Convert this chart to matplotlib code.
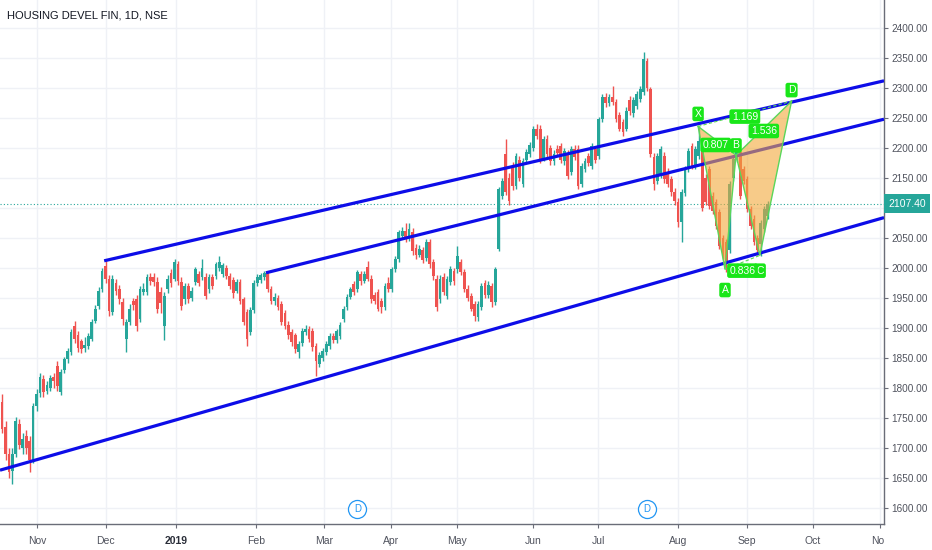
import numpy as np
import matplotlib.pyplot as plt
from matplotlib.patches import Polygon
from matplotlib.transforms import blended_transform_factory, Bbox, TransformedBbox
from matplotlib.ticker import FuncFormatter

plt.rcParams['font.family'] = ['Liberation Sans Narrow', 'DejaVu Sans Condensed', 'Liberation Sans', 'DejaVu Sans']

title = 'HOUSING DEVEL FIN, 1D, NSE'

# daily candles, 17 Oct 2018 .. 10 Sep 2019
opens = [1777, 1735, 1690, 1662, 1690, 1740, 1700, 1720, 1712, 1680,
         1770, 1792, 1815, 1795, 1800, 1818, 1837, 1793, 1830, 1848,
         1860, 1903, 1888, 1878, 1866, 1870, 1882, 1912, 1937, 1965,
         2003, 1982, 1927, 1975, 1965, 1943, 1882, 1910, 1945, 1948,
         1915, 1960, 1960, 1985, 1985, 1977, 1960, 1903, 1965, 1992,
         1982, 2007, 1977, 1948, 1970, 1950, 1977, 1990, 1985, 1985,
         1965, 1985, 1987, 2000, 1990, 2000, 1987, 1980, 1962, 1977,
         1948, 1927, 1893, 1930, 1975, 1980, 1985, 1990, 1965, 1945,
         1950, 1940, 1925, 1905, 1893, 1888, 1860, 1875, 1893, 1898,
         1895, 1870, 1840, 1850, 1860, 1870, 1887, 1880, 1887, 1915,
         1935, 1952, 1973, 1965, 1990, 1978, 2002, 1982, 1955, 1960,
         1945, 1935, 1975, 1965, 1998, 2015, 2053, 2062, 2050, 2060,
         2033, 2022, 2030, 2017, 2043, 2010, 1982, 1948, 1985, 1953,
         1977, 1995, 1998, 2010, 1993, 1965, 1953, 1940, 1918, 1935,
         1975, 1955, 1970, 1943, 2032, 2120, 2190, 2150, 2170, 2137,
         2180, 2140, 2180, 2190, 2200, 2232, 2232, 2182, 2215, 2200,
         2178, 2198, 2203, 2178, 2190, 2160, 2198, 2198, 2140, 2165,
         2187, 2170, 2198, 2187, 2248, 2285, 2275, 2285, 2277, 2255,
         2243, 2232, 2280, 2258, 2270, 2282, 2293, 2345, 2298, 2185,
         2145, 2155, 2187, 2160, 2148, 2127, 2110, 2077, 2125, 2165,
         2203, 2170, 2187, 2212, 2150, 2165, 2120, 2110, 2093, 2050,
         2043, 2030, 2150, 2182, 2193, 2165, 2148, 2098, 2082, 2050,
         2040, 2065, 2087]
highs = [1790, 1745, 1700, 1700, 1752, 1748, 1725, 1730, 1720, 1775,
         1798, 1825, 1822, 1812, 1822, 1825, 1845, 1832, 1852, 1866,
         1898, 1912, 1895, 1882, 1885, 1892, 1915, 1938, 1968, 2000,
         2012, 1988, 1988, 1982, 1972, 1950, 1915, 1940, 1950, 1955,
         1970, 1975, 1990, 1992, 1992, 1985, 1968, 1960, 1988, 1998,
         2015, 2012, 1985, 1975, 1975, 1968, 2002, 1995, 2015, 1992,
         1990, 1990, 2010, 2020, 2008, 2005, 1992, 1985, 1982, 1982,
         1952, 1932, 1935, 1980, 1990, 1992, 1995, 1995, 1970, 1958,
         1955, 1945, 1930, 1912, 1898, 1892, 1878, 1900, 1905, 1903,
         1900, 1875, 1860, 1866, 1878, 1892, 1892, 1898, 1910, 1936,
         1956, 1968, 1978, 1996, 1995, 1995, 2012, 1988, 1960, 1965,
         1950, 1975, 1985, 2002, 2020, 2063, 2068, 2075, 2075, 2066,
         2040, 2038, 2035, 2048, 2048, 2015, 1988, 1988, 1992, 1986,
         2003, 2000, 2037, 2015, 1998, 1972, 1958, 1945, 1945, 1975,
         1980, 1978, 1975, 2002, 2135, 2150, 2215, 2158, 2176, 2192,
         2186, 2184, 2198, 2210, 2237, 2240, 2238, 2220, 2222, 2205,
         2196, 2205, 2208, 2200, 2196, 2203, 2205, 2205, 2175, 2184,
         2192, 2208, 2204, 2252, 2290, 2292, 2290, 2303, 2282, 2260,
         2248, 2268, 2286, 2285, 2295, 2303, 2360, 2350, 2302, 2192,
         2192, 2203, 2193, 2166, 2153, 2133, 2116, 2132, 2170, 2200,
         2208, 2203, 2237, 2216, 2156, 2170, 2126, 2115, 2098, 2055,
         2048, 2145, 2187, 2198, 2198, 2170, 2153, 2104, 2088, 2055,
         2080, 2103, 2112]
lows = [1725, 1680, 1650, 1640, 1685, 1698, 1690, 1690, 1660, 1675,
        1762, 1785, 1785, 1790, 1795, 1800, 1795, 1788, 1825, 1842,
        1855, 1875, 1860, 1858, 1860, 1865, 1878, 1908, 1932, 1960,
        1975, 1920, 1922, 1955, 1940, 1905, 1860, 1905, 1930, 1895,
        1910, 1955, 1955, 1972, 1970, 1925, 1925, 1880, 1958, 1968,
        1978, 1972, 1930, 1940, 1942, 1945, 1972, 1970, 1980, 1948,
        1958, 1965, 1982, 1995, 1985, 1982, 1965, 1950, 1958, 1940,
        1905, 1870, 1888, 1925, 1970, 1975, 1980, 1960, 1940, 1938,
        1930, 1905, 1898, 1882, 1870, 1858, 1850, 1870, 1888, 1877,
        1862, 1820, 1835, 1845, 1855, 1865, 1875, 1875, 1882, 1910,
        1930, 1948, 1955, 1960, 1972, 1975, 1978, 1942, 1940, 1928,
        1925, 1930, 1960, 1960, 1994, 2010, 2048, 2043, 2045, 2022,
        2015, 2018, 2008, 2012, 2000, 1980, 1928, 1942, 1955, 1948,
        1972, 1972, 1992, 1988, 1960, 1945, 1928, 1912, 1912, 1930,
        1950, 1950, 1935, 1938, 2028, 2115, 2122, 2105, 2130, 2132,
        2145, 2135, 2175, 2185, 2195, 2215, 2175, 2178, 2185, 2172,
        2172, 2188, 2175, 2172, 2148, 2155, 2180, 2132, 2135, 2160,
        2170, 2165, 2175, 2182, 2244, 2268, 2270, 2272, 2243, 2228,
        2220, 2228, 2255, 2252, 2265, 2277, 2288, 2295, 2185, 2130,
        2140, 2150, 2142, 2135, 2120, 2105, 2068, 2043, 2120, 2160,
        2165, 2165, 2182, 2095, 2105, 2098, 2090, 2065, 2032, 2015,
        1993, 2025, 2145, 2176, 2115, 2140, 2093, 2065, 2038, 2022,
        2020, 2060, 2082]
closes = [1732, 1690, 1660, 1690, 1745, 1705, 1715, 1700, 1680, 1770,
          1790, 1818, 1793, 1805, 1817, 1812, 1803, 1827, 1848, 1862,
          1893, 1882, 1867, 1865, 1872, 1887, 1910, 1932, 1962, 1995,
          1982, 1928, 1982, 1962, 1948, 1915, 1910, 1932, 1938, 1903,
          1965, 1965, 1985, 1978, 1977, 1932, 1942, 1953, 1982, 1975,
          2010, 1978, 1937, 1970, 1948, 1962, 1998, 1975, 2000, 1953,
          1985, 1970, 2007, 2010, 2005, 1987, 1970, 1958, 1977, 1945,
          1910, 1882, 1930, 1975, 1985, 1988, 1992, 1965, 1945, 1952,
          1935, 1910, 1903, 1888, 1877, 1865, 1873, 1895, 1898, 1882,
          1868, 1845, 1855, 1862, 1873, 1887, 1880, 1895, 1905, 1932,
          1952, 1965, 1960, 1993, 1978, 1990, 1982, 1948, 1945, 1932,
          1935, 1970, 1965, 1998, 2015, 2060, 2062, 2048, 2065, 2028,
          2022, 2032, 2013, 2043, 2007, 1987, 1935, 1982, 1960, 1982,
          1998, 1978, 2020, 1993, 1965, 1950, 1932, 1920, 1940, 1970,
          1955, 1972, 1943, 1998, 2132, 2145, 2127, 2112, 2137, 2187,
          2150, 2178, 2193, 2205, 2232, 2220, 2182, 2215, 2190, 2178,
          2190, 2192, 2180, 2195, 2153, 2198, 2185, 2137, 2170, 2178,
          2175, 2203, 2180, 2248, 2285, 2275, 2285, 2277, 2248, 2232,
          2227, 2262, 2262, 2280, 2290, 2298, 2348, 2300, 2190, 2140,
          2187, 2198, 2148, 2140, 2127, 2112, 2077, 2127, 2165, 2195,
          2170, 2198, 2212, 2100, 2110, 2103, 2095, 2070, 2037, 2020,
          2010, 2140, 2182, 2195, 2120, 2145, 2098, 2070, 2043, 2030,
          2075, 2098, 2107.40]

# month labels sit at the first bar of each month (bar index)
month_pos = [10.1, 30.1, 50.4, 73.6, 93.3, 112.8, 131.9, 153.9, 172.8, 196.0, 216.0, 235.0, 254.5]
month_labels = ['Nov', 'Dec', '2019', 'Feb', 'Mar', 'Apr', 'May', 'Jun', 'Jul', 'Aug', 'Sep', 'Oct', 'Nov']

# drawn trend lines: (bar, price) anchors, extended to the right
trend_lines = [[(29.6, 2012), (255.7, 2312)],
               [(76.5, 1992), (255.7, 2248)],
               [(-0.6, 1663), (255.7, 2084)]]

# XABCD pattern
pat_names = ['X', 'A', 'B', 'C', 'D']
pat_idx = [201.8, 209.6, 212.8, 219.7, 228.9]
pat_price = [2236, 1998, 2188, 2021, 2278]
ratio_pairs = [(0, 2), (1, 3), (2, 4), (0, 4)]
ratio_labels = ['0.807', '0.836', '1.536', '1.169']

div_idx = [103, 187]
last_price = 2107.40

UP = '#26a69a'
DOWN = '#ef5350'
TXT = '#50535e'
PAT = '#19e619'

fig = plt.figure(figsize=(9.32, 5.5), dpi=100)
ax = fig.add_axes([0, 26 / 550, 884 / 932, 524 / 550])
ax.set_xlim(-0.6, 255.7)
ax.set_ylim(1573.3, 2446.7)
ax.set_axisbelow(True)

# candles
o = np.array(opens, float)
h = np.array(highs, float)
l = np.array(lows, float)
c = np.array(closes, float)
x = np.arange(len(c))
col = np.where(c >= o, UP, DOWN)
ax.vlines(x, l, h, colors=col, lw=1.0, zorder=2)
ax.bar(x, np.maximum(np.abs(c - o), 1.5), bottom=np.minimum(o, c), width=0.8,
       color=col, linewidth=0, zorder=2.1)

ax.axhline(last_price, color=UP, lw=0.8, ls=(0, (1, 2)), zorder=1.5)

# trend lines
for (x0, y0), (x1, y1) in trend_lines:
    ax.plot([x0, x1], [y0, y1], color='#0d0de8', lw=2.3, solid_capstyle='butt', zorder=3)

# harmonic pattern
P = list(zip(pat_idx, pat_price))
for tri in [(P[0], P[1], P[2]), (P[2], P[3], P[4])]:
    ax.add_patch(Polygon(tri, closed=True, fc='#f2a93b', alpha=0.6, ec='none', zorder=4))
ax.plot(pat_idx, pat_price, color='#5ad65a', lw=1, zorder=5)
for a, b in [(0, 2), (2, 4)]:
    ax.plot([P[a][0], P[b][0]], [P[a][1], P[b][1]], color='#5ad65a', lw=1, zorder=5)
for a, b in [(1, 3), (0, 4)]:
    ax.plot([P[a][0], P[b][0]], [P[a][1], P[b][1]], color='#5ad65a', lw=0.8, ls=(0, (3, 2)), zorder=5)

lbl = dict(color='white', fontsize=7.5, ha='center', va='center', zorder=7,
           bbox=dict(boxstyle='round,pad=0.22', fc=PAT, ec='none'))
name_off = [9, -15, 7, -11, 8]
for name, px, py, dy in zip(pat_names, pat_idx, pat_price, name_off):
    ax.annotate(name, (px, py), xytext=(0, dy), textcoords='offset points', **lbl)
ratio_off = [(-1, -3), (0, -6), (0, -2), (0, -2)]
for (a, b), txt, off in zip(ratio_pairs, ratio_labels, ratio_off):
    mx = (P[a][0] + P[b][0]) / 2
    my = (P[a][1] + P[b][1]) / 2
    ax.annotate(txt, (mx, my), xytext=off, textcoords='offset points', **lbl)

# dividend markers
tr = blended_transform_factory(ax.transData, ax.transAxes)
ax.plot(div_idx, [0.0286] * len(div_idx), 'o', ms=13, mfc='white', mec='#2196f3', mew=0.9,
        transform=tr, zorder=6, clip_on=False)
for d in div_idx:
    ax.text(d, 0.0286, 'D', color='#2196f3', fontsize=7, ha='center', va='center',
            transform=tr, zorder=7)

# axes styling
for s in ['top', 'left']:
    ax.spines[s].set_visible(False)
for s in ['right', 'bottom']:
    ax.spines[s].set_color('#6a6d78')
    ax.spines[s].set_linewidth(1)
ax.grid(color='#eff1f6', lw=1)
ax.yaxis.tick_right()
ax.set_yticks(np.arange(1600, 2401, 50))
# the 2100 label sits under the last-price tag
ax.yaxis.set_major_formatter(FuncFormatter(lambda v, p: '' if abs(v - 2100) < 1 else f'{v:.2f}'))
ax.set_xticks(month_pos)
ax.set_xticklabels(month_labels)
ax.tick_params(axis='both', colors='#6a6d78', labelcolor=TXT, labelsize=7.2, length=3, width=0.8)
ax.tick_params(axis='x', pad=6, labelsize=7.5)
ax.tick_params(axis='y', pad=2)
for t in ax.get_xticklabels():
    if t.get_text() == '2019':
        t.set_fontweight('bold')
        t.set_color('#2a2e39')
clip = TransformedBbox(Bbox([[0, 0], [884 / 932, 1]]), fig.transFigure)
last_lbl = ax.get_xticklabels()[-1]
last_lbl.set_clip_on(True)
last_lbl.set_clip_box(clip)

# last price tag
ty = blended_transform_factory(ax.transAxes, ax.transData)
ax.annotate(f'{last_price:.2f}', (1, last_price), xycoords=ty, xytext=(3, 0), textcoords='offset points',
            color='white', fontsize=7.5, ha='left', va='center', annotation_clip=False, zorder=10,
            bbox=dict(boxstyle='square,pad=0.4', fc=UP, ec='none'))

fig.text(7 / 932, 1 - 15 / 550, title, fontsize=8, color='#131722', va='center', ha='left')

fig.savefig('out.png', dpi=100)
